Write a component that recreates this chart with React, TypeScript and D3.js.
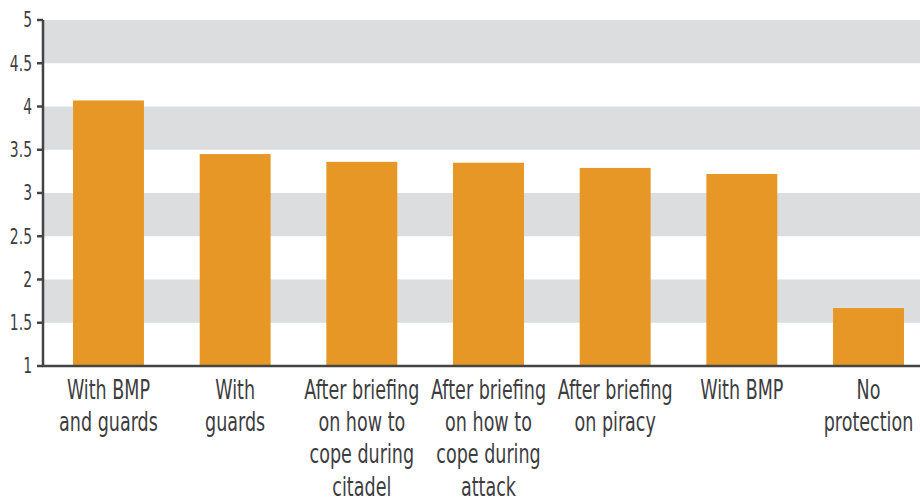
import React from "react";
import * as d3 from "d3";

const categories = [
  "With BMP and guards",
  "With guards",
  "After briefing on how to cope during citadel",
  "After briefing on how to cope during attack",
  "After briefing on piracy",
  "With BMP",
  "No protection",
];
const labelLines = [
  ["With BMP", "and guards"],
  ["With", "guards"],
  ["After briefing", "on how to", "cope during", "citadel"],
  ["After briefing", "on how to", "cope during", "attack"],
  ["After briefing", "on piracy"],
  ["With BMP"],
  ["No", "protection"],
];
const values = [4.07, 3.45, 3.36, 3.35, 3.29, 3.22, 1.67];
const yTicks = [1, 1.5, 2, 2.5, 3, 3.5, 4, 4.5, 5];
const bands = [
  [1.5, 2],
  [2.5, 3],
  [3.5, 4],
  [4.5, 5],
];

const W = 920;
const H = 497;
const axisX = 43;
const FONT = "'DejaVu Sans', sans-serif";
const TEXT = "#3d3d3f";

export default function App() {
  const y = d3.scaleLinear().domain([1, 5]).range([366, 20]);
  const x = d3
    .scaleBand<string>()
    .domain(categories)
    .range([axisX, 934])
    .paddingInner(0.44)
    .paddingOuter(0.237);

  return (
    <svg
      width={W}
      height={H}
      style={{ position: "absolute", left: 0, top: 0, background: "#fff" }}
    >
      {bands.map(([a, b], i) => (
        <rect
          key={i}
          x={axisX + 1}
          y={y(b)}
          width={W - axisX}
          height={y(a) - y(b)}
          fill="#dcdddf"
        />
      ))}
      {categories.map((c, i) => (
        <rect
          key={c}
          x={x(c)}
          y={y(values[i])}
          width={x.bandwidth()}
          height={y(1) - y(values[i])}
          fill="#e69725"
        />
      ))}
      <line x1={axisX} x2={axisX} y1={y(5)} y2={y(1) + 1} stroke="#444" strokeWidth={2.5} />
      <line x1={axisX - 1} x2={W} y1={y(1)} y2={y(1)} stroke="#444" strokeWidth={2.5} />
      {yTicks.map((t) => (
        <g key={t}>
          <line x1={axisX - 6} x2={axisX} y1={y(t)} y2={y(t)} stroke="#444" strokeWidth={2.5} />
          <g transform={`translate(${axisX - 11},${y(t)}) scale(0.68,1)`}>
            <text
              x={0}
              y={0}
              dy="0.36em"
              textAnchor="end"
              fontFamily={FONT}
              fontSize={20.5}
              fill={TEXT}
            >
              {t}
            </text>
          </g>
        </g>
      ))}
      {categories.map((c, i) => (
        <g
          key={c}
          transform={`translate(${(x(c) as number) + x.bandwidth() / 2},398.5) scale(0.65,1)`}
        >
          <text x={0} y={0} textAnchor="middle" fontFamily={FONT} fontSize={27} fill={TEXT}>
            {labelLines[i].map((l, j) => (
              <tspan key={j} x={0} dy={j === 0 ? 0 : 32.5}>
                {l}
              </tspan>
            ))}
          </text>
        </g>
      ))}
    </svg>
  );
}
